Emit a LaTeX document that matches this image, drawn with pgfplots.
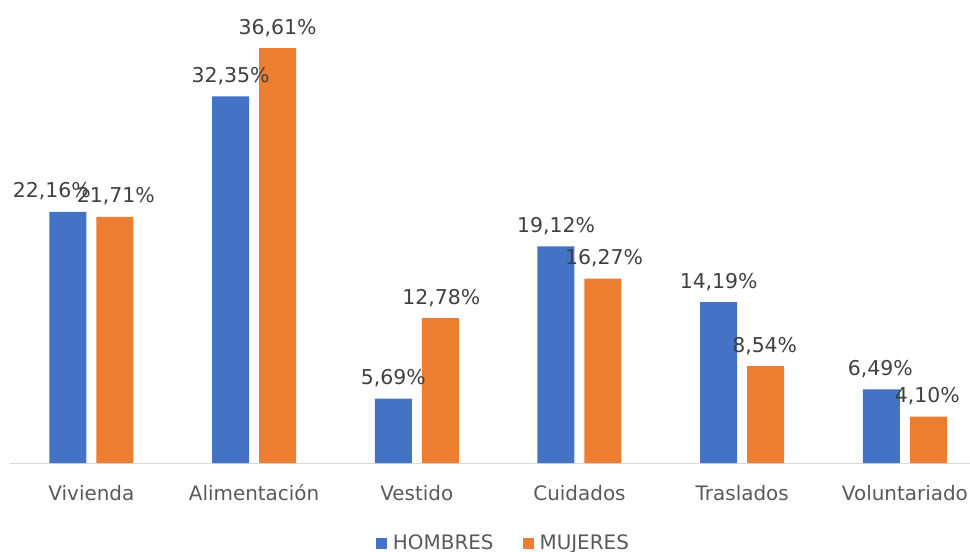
\documentclass[border=0pt]{standalone}
\usepackage{pgfplots}
\pgfplotsset{compat=1.18}
\usepackage{pgfplotstable}
\usepackage{fontspec}
\setmainfont{DejaVu Sans}

\definecolor{hombres}{HTML}{4472C4}
\definecolor{mujeres}{HTML}{ED7D31}
\definecolor{txt}{HTML}{595959}
\definecolor{lbl}{HTML}{404040}
\definecolor{eje}{HTML}{D9D9D9}

% x = categoria, dx = desplazamiento horizontal de la etiqueta (bp)
\pgfplotstableread{
x hombres mujeres hdx mdx
0 22.16 21.71 -16 1
1 32.35 36.61 0 0
2 5.69 12.78 0 1
3 19.12 16.27 0 1
4 14.19 8.54 0 -1
5 6.49 4.10 -1 -1
}\datos

\begin{document}
\begin{tikzpicture}
\begin{axis}[
    scale only axis,
    width=960bp, height=463bp,
    xmin=-0.5, xmax=5.4,
    ymin=0, ymax=40.86,
    ybar=10bp, bar width=37bp,
    axis x line=bottom, axis y line=none,
    axis line style={eje, line width=1pt, -},
    xtick={0,...,5},
    xticklabels={Vivienda,Alimentación,Vestido,Cuidados,Traslados,Voluntariado},
    major tick length=0pt,
    xticklabel style={font=\fontsize{20}{24}\selectfont, text=txt, anchor=base, yshift=-37bp},
    nodes near coords={\pgfmathprintnumber[fixed,fixed zerofill,precision=2,use comma,assume math mode=true]{\pgfplotspointmeta}\%},
    every node near coord/.append style={font=\fontsize{20.5}{24}\selectfont, text=lbl, anchor=base, yshift=14bp, xshift=\dx bp},
    legend image code/.code={\fill[#1] (0bp,-5.5bp) rectangle (11bp,5.5bp);},
    legend style={at={(0.514,-0.1728)}, anchor=center, draw=none, fill=none,
        inner sep=0pt, legend columns=2, font=\fontsize{20}{24}\selectfont, text=txt,
        /tikz/every odd column/.append style={column sep=4bp},
        /tikz/every even column/.append style={column sep=27bp}},
]
\addplot[fill=hombres, draw=none, visualization depends on={\thisrow{hdx} \as \dx}]
    table[x=x, y=hombres] {\datos};
\addplot[fill=mujeres, draw=none, visualization depends on={\thisrow{mdx} \as \dx}]
    table[x=x, y=mujeres] {\datos};
\legend{HOMBRES, MUJERES}
\end{axis}
\pgfresetboundingbox
\path[use as bounding box] (-10bp,-89bp) rectangle (960bp,463bp);
\end{tikzpicture}
\end{document}
